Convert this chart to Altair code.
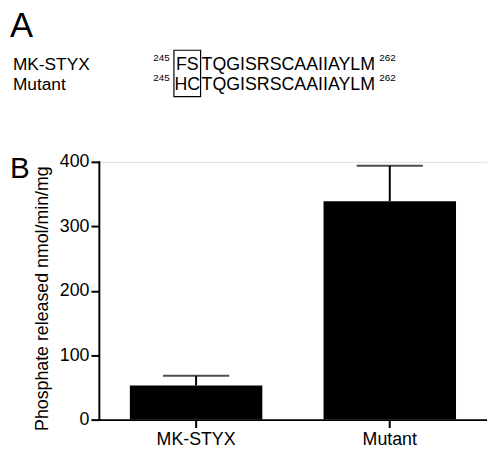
import altair as alt
import pandas as pd

# ---- data ----
groups = ["MK-STYX", "Mutant"]
means = [53, 339]
errors = [15, 55]

seq_names = ["MK-STYX", "Mutant"]
seq_boxed = ["FS", "HC"]
seq_rest = ["TQGISRSCAAIIAYLM", "TQGISRSCAAIIAYLM"]
seq_start = ["245", "245"]
seq_end = ["262", "262"]
panel_labels = ["A", "B"]
y_title = "Phosphate released nmol/min/mg"

FONT = "Liberation Sans"

df = pd.DataFrame({"group": groups, "mean": means, "err": errors})
df["upper"] = df["mean"] + df["err"]

W, H = 393, 261

xenc = alt.X("group:N", sort=groups, title=None,
             scale=alt.Scale(paddingInner=0.316, paddingOuter=0.16),
             axis=alt.Axis(labelAngle=0, labelFontSize=18, labelFont=FONT,
                           labelColor="black", labelPadding=3,
                           tickSize=8, tickWidth=2, tickColor="black",
                           domainWidth=2, domainColor="black", domainCap="square"))
yenc = alt.Y("mean:Q", title=y_title,
             scale=alt.Scale(domain=[0, 400], nice=False),
             axis=alt.Axis(values=[0, 100, 200, 300, 400], labelFontSize=18,
                           labelFont=FONT, labelColor="black", labelPadding=2,
                           tickSize=8, tickWidth=2, tickColor="black",
                           domainWidth=2, domainColor="black", domainCap="square",
                           grid=False, titleFontSize=18, titleFont=FONT,
                           titleFontWeight="normal", titleColor="black",
                           titlePadding=8, titleY=138))

base = alt.Chart(df)
bars = base.mark_bar(color="black").encode(x=xenc, y=yenc)
rule = base.mark_rule(color="black", strokeWidth=2).encode(
    x=alt.X("group:N", sort=groups), y="mean:Q", y2="upper:Q")
cap = base.mark_tick(color="black", size=67, thickness=2, orient="horizontal").encode(
    x=alt.X("group:N", sort=groups), y="upper:Q")

# ---- panel A annotations (pixel positions relative to plot area) ----
ann = pd.DataFrame({"i": [0]})
def txt(s, x, y, size, align="left"):
    return alt.Chart(ann).mark_text(text=s, font=FONT, fontSize=size, color="black",
                                    align=align, baseline="alphabetic").encode(
        x=alt.value(x), y=alt.value(y))

layers = [bars, rule, cap]
layers.append(txt(panel_labels[0], -90, -126, 35))
layers.append(txt(panel_labels[1], -90, 16, 30))
row_base = [-93.5, -73]
for i in range(2):
    yb = row_base[i]
    layers.append(txt(seq_names[i], -87, yb, 17.5))
    layers.append(txt(seq_start[i], 55, yb - 8.5, 10))
    layers.append(txt(seq_boxed[i], 89.5, yb, 18, align="center"))
    layers.append(txt(seq_rest[i], 104, yb, 18))
    layers.append(txt(seq_end[i], 284, yb - 8.5, 10))

box = alt.Chart(ann).mark_rect(fill=None, stroke="black", strokeWidth=1.2).encode(
    x=alt.value(76), x2=alt.value(103), y=alt.value(-113), y2=alt.value(-66))
layers.append(box)

chart = alt.layer(*layers).properties(
    width=W, height=H,
    autosize=alt.AutoSizeParams(type="none"),
    padding={"left": 92, "top": 153, "right": 0, "bottom": 30},
).configure_view(stroke=None).configure(background="white")

chart.save("out.html", embed_options={"renderer": "svg", "actions": False})
